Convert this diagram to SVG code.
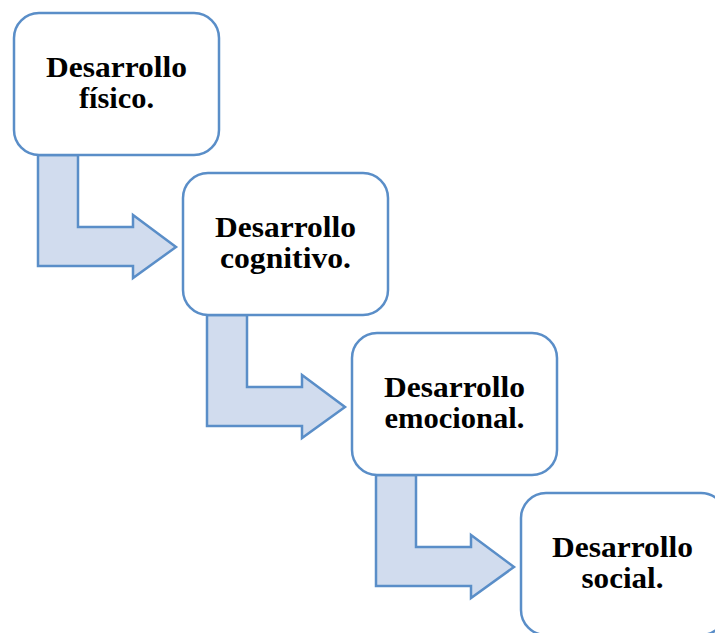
<svg xmlns="http://www.w3.org/2000/svg" width="715" height="633" viewBox="0 0 715 633">
<style>
.box{fill:#ffffff;stroke:#5a8ec8;stroke-width:2.5}
.arr{fill:#d1dcee;stroke:#5a8ec8;stroke-width:2.5;stroke-linejoin:miter}
.t{font-family:'Liberation Serif','Times New Roman',Times,serif;font-weight:700;font-size:30px;fill:#000;text-anchor:middle}
</style>
<rect width="715" height="633" fill="#ffffff"/>
<g id="connectors">
<path class="arr" d="M38,155 L78,155 L78,227 L133,227 L133,215 L176,247 L133,278 L133,266 L38,266 Z"/>
<path class="arr" d="M207,315 L247,315 L247,387 L302,387 L302,375 L345,407 L302,438 L302,426 L207,426 Z"/>
<path class="arr" d="M376,475 L416,475 L416,547 L471,547 L471,535 L514,567 L471,598 L471,586 L376,586 Z"/>
</g>
<g id="node1">
<rect class="box" x="14" y="13" width="205" height="142" rx="25"/>
<text class="t" x="116.5" y="77" textLength="141" lengthAdjust="spacingAndGlyphs">Desarrollo</text>
<text class="t" x="116.5" y="108" textLength="75" lengthAdjust="spacingAndGlyphs">físico.</text>
</g>
<g id="node2">
<rect class="box" x="183" y="173" width="205" height="142" rx="25"/>
<text class="t" x="285.5" y="237" textLength="141" lengthAdjust="spacingAndGlyphs">Desarrollo</text>
<text class="t" x="285.5" y="268" textLength="131" lengthAdjust="spacingAndGlyphs">cognitivo.</text>
</g>
<g id="node3">
<rect class="box" x="352" y="333" width="205" height="142" rx="25"/>
<text class="t" x="454.5" y="397" textLength="141" lengthAdjust="spacingAndGlyphs">Desarrollo</text>
<text class="t" x="454.5" y="428" textLength="140" lengthAdjust="spacingAndGlyphs">emocional.</text>
</g>
<g id="node4">
<rect class="box" x="521" y="493" width="205" height="142" rx="25"/>
<text class="t" x="622.5" y="557" textLength="141" lengthAdjust="spacingAndGlyphs">Desarrollo</text>
<text class="t" x="622.5" y="588" textLength="82" lengthAdjust="spacingAndGlyphs">social.</text>
</g>
</svg>
